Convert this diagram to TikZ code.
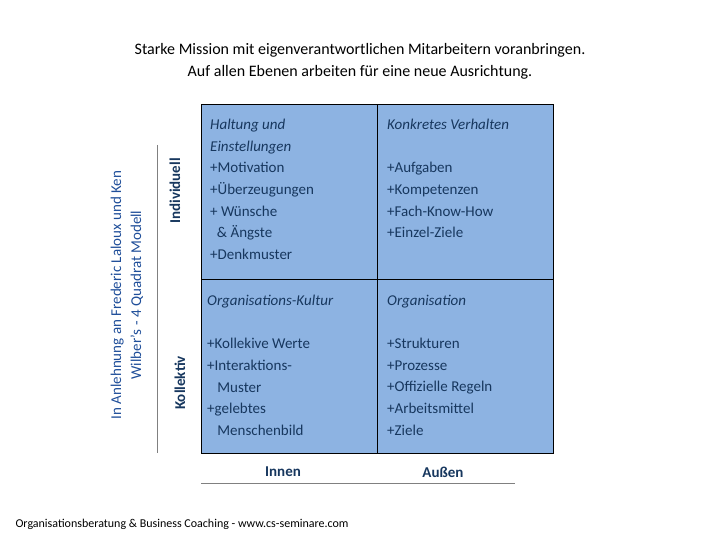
\documentclass[tikz,border=0pt]{standalone}
\usepackage{fontspec}
\setmainfont{Carlito}
\usetikzlibrary{positioning}
\definecolor{quadfill}{HTML}{8DB3E2}
\definecolor{navy}{HTML}{17375E}
\definecolor{sideblue}{HTML}{1F4E99}
\tikzstyle{quad} = [rectangle, draw=black, fill=quadfill, minimum width=176pt, minimum height=174.5pt, anchor=north west]
\tikzstyle{celltext} = [anchor=north west, align=left, text=navy, font=\fontsize{15}{21.6}\selectfont, inner sep=0pt]
\tikzstyle{axis} = [text=navy, font=\fontsize{15}{18}\selectfont\bfseries]
\tikzstyle{rule} = [draw=gray, thick]
\begin{document}
\begin{tikzpicture}[x=1pt,y=-1pt]
\useasboundingbox (0,0) rectangle (720,540);
\node (title) [align=center, font=\fontsize{16}{22}\selectfont] at (360,61) {Starke Mission mit eigenverantwortlichen Mitarbeitern voranbringen.\\Auf allen Ebenen arbeiten für eine neue Ausrichtung.};
\node (q1) [quad] at (201,104) {};
\node (q2) [quad] at (377,104) {};
\node (q3) [quad] at (201,278.5) {};
\node (q4) [quad] at (377,278.5) {};
\node (t1) [celltext] at (210,119) {\textit{Haltung und}\\\textit{Einstellungen}\\+Motivation\\+Überzeugungen\\+ Wünsche\\\ \ \& Ängste\\+Denkmuster};
\node (t2) [celltext] at (387,119) {\textit{Konkretes Verhalten}\\[21.6pt]+Aufgaben\\+Kompetenzen\\+Fach-Know-How\\+Einzel-Ziele};
\node (t3) [celltext] at (207,295) {\textit{Organisations-Kultur}\\[21.6pt]+Kollekive Werte\\+Interaktions-\\\ \ \ Muster\\+gelebtes\\\ \ \ Menschenbild};
\node (t4) [celltext] at (387,295) {\textit{Organisation}\\[21.6pt]+Strukturen\\+Prozesse\\+Offizielle Regeln\\+Arbeitsmittel\\+Ziele};
\coordinate (vtop) at (157,145);
\coordinate (vbot) at (157,453);
\draw [rule] (vtop) -- (vbot);
\coordinate (hleft) at (201,483);
\coordinate (hright) at (515,483);
\draw [rule] (hleft) -- (hright);
\node (indiv) [axis, rotate=90] at (175,191) {Individuell};
\node (kollek) [axis, rotate=90] at (180,383) {Kollektiv};
\node (innen) [axis] at (283,472) {Innen};
\node (aussen) [axis] at (443,472) {Außen};
\node (source) [rotate=90, align=center, text=sideblue, font=\fontsize{15}{20}\selectfont] at (127,295) {In Anlehnung an Frederic Laloux und Ken\\Wilber's - 4 Quadrat Modell};
\node (footer) [anchor=west, font=\fontsize{12}{14}\selectfont] at (12,524) {Organisationsberatung \& Business Coaching - www.cs-seminare.com};
\end{tikzpicture}
\end{document}
